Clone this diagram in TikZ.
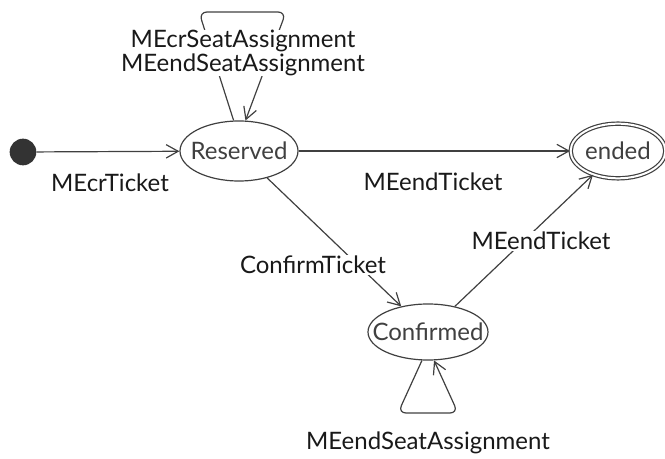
\documentclass[tikz,border=0pt]{standalone}
\usepackage{fontspec}
\setmainfont{Lato}
\usetikzlibrary{arrows.meta,shapes.geometric}

\begin{document}
\begin{tikzpicture}[x=0.75pt,y=-0.75pt,>={Straight Barb[length=9pt,width=10pt]},
state/.style={draw=black!75,line width=0.9pt,ellipse,minimum width=88.5pt,minimum height=45pt,inner sep=0pt,text=black!75,font=\fontsize{18pt}{20pt}\selectfont},
trans/.style={draw=black!75,line width=0.9pt,->},
lbl/.style={font=\fontsize{18pt}{18pt}\selectfont,text=black!90,align=center,inner sep=1pt}]
\useasboundingbox(0,0)rectangle(665,459);
\node[circle,fill=black!80,minimum size=20pt,inner sep=0pt](init)at(23,152){};
\node[state](res)at(239,151){\makebox[0pt]{Reserved}};
\node[state,minimum width=71pt,minimum height=41pt,double,double distance=1.5pt](end)at(618,151){\makebox[0pt]{ended}};
\node[state,minimum width=90pt,minimum height=42pt](conf)at(428,332){\makebox[0pt]{Confirmed}};
\draw[trans](init)--(res);
\node[lbl](l1)at(110,183){MEcrTicket};
\draw[trans](res)--(end);
\node[lbl](l2)at(433,182){MEendTicket};
\draw[trans](res)--(conf);
\node[lbl,fill=white](l3)at(313,265){ConfirmTicket};
\draw[trans](conf)--(end);
\node[lbl,fill=white](l4)at(541,241){MEendTicket};
% self loops
\draw[trans,rounded corners=6pt](res.100)--(199,12)--(286,12)--(res.78);
\node[lbl,fill=white,inner sep=0pt](l5)at(243,53){MEcrSeatAssignment\\MEendSeatAssignment};
\draw[trans,rounded corners=6pt](conf.-102)--(398,413)--(458,413)--(conf.-78);
\node[lbl](l6)at(428,443){MEendSeatAssignment};
\end{tikzpicture}
\end{document}
